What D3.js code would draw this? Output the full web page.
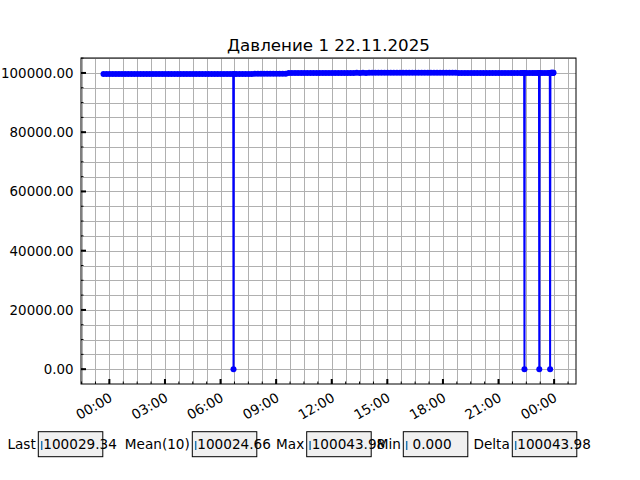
<!DOCTYPE html>
<html>
<head>
<meta charset="utf-8">
<script src="https://cdn.jsdelivr.net/npm/d3@7"></script>
<style>
body { margin: 0; background: #fff; }
svg { font-family: "DejaVu Sans", sans-serif; }
</style>
</head>
<body>
<svg id="chart" width="640" height="480"></svg>
<script>
// minutes after 22.11.2025 00:00 and pressure readings
var minutes = [
    -19, -9, 1, 11, 21, 31, 41, 51, 61, 71,
    81, 91, 101, 111, 121, 131, 141, 151, 161, 171,
    181, 191, 201, 211, 221, 231, 241, 251, 261, 271,
    281, 291, 301, 311, 321, 331, 341, 351, 361, 371,
    381, 391, 401, 402, 403, 411, 421, 431, 441, 451,
    461, 471, 481, 491, 501, 511, 521, 531, 541, 551,
    561, 571,
    581, 591, 601, 611, 621, 631, 641, 651, 661, 671,
    681, 691, 701, 711, 721, 731, 741, 751, 761, 771,
    781, 791, 801, 811, 821, 831, 841, 851, 861, 871,
    881, 891, 901, 911, 921, 931, 941, 951, 961, 971,
    981, 991, 1001, 1011, 1021, 1031, 1041, 1051, 1061, 1071,
    1081, 1091, 1101, 1111, 1121, 1131, 1141, 1151, 1161, 1171,
    1181, 1191, 1201, 1211, 1221, 1231, 1241, 1251, 1261, 1271,
    1281, 1291, 1301, 1311, 1321, 1331,
    1337, 1343, 1344, 1345, 1352, 1361, 1370, 1378, 1386, 1391,
    1392, 1393, 1401, 1410, 1419, 1426, 1427,
    1428, 1429, 1430, 1431, 1432, 1433, 1434, 1436, 1437, 1438
];
var pressure = [
    99671.2, 99668.5, 99665.9, 99663.4, 99660.8, 99662.1, 99659.7, 99657.3, 99655.0, 99656.4,
    99653.8, 99652.1, 99650.6, 99649.2, 99651.5, 99648.7, 99647.3, 99646.0, 99648.9, 99645.2,
    99644.6, 99643.8, 99646.1, 99644.0, 99642.7, 99645.5, 99647.8, 99649.3, 99651.9, 99654.2,
    99656.6, 99658.1, 99660.4, 99662.9, 99664.3, 99666.8, 99668.0, 99669.5, 99671.7, 99673.2,
    99674.6, 99676.0, 99677.3, 0, 99677.9, 99679.4, 99680.2, 99682.5, 99683.1, 99685.7,
    99686.4, 99688.0, 99689.6, 99690.3, 99692.8, 99693.5, 99695.1, 99696.7, 99697.4, 99699.0,
    99700.6, 99701.9,
    100008.3, 100010.7, 100012.2, 100009.8, 100013.5, 100015.1, 100011.6, 100014.9, 100016.3, 100013.7,
    100017.2, 100018.8, 100015.4, 100019.6, 100021.0, 100018.3, 100022.5, 100020.1, 100023.8, 100021.4,
    100024.7, 100022.9, 100025.6, 100023.2, 100026.8, 100024.1, 100027.5, 100025.0, 100028.3, 100026.2,
    100029.1, 100027.4, 100030.6, 100028.0, 100031.2, 100029.5, 100032.7, 100030.3, 100033.4, 100031.8,
    100034.6, 100032.1, 100035.9, 100037.8, 100043.98, 100036.2, 100033.5, 100031.0, 100032.8, 100029.4,
    100030.9, 100027.6, 100028.5, 100025.3, 100026.7, 100023.9, 100024.8, 100021.5, 100022.6, 100019.8,
    100020.4, 100017.1, 100018.9, 100015.7, 100016.5, 100014.2, 100015.8, 100013.0, 100014.6, 100012.3,
    100013.9, 100011.5, 100012.8, 100010.6, 100011.9, 100013.2,
    100012.4, 100013.6, 0, 100014.1, 100015.6, 100016.9, 100015.2, 100017.8, 100018.3, 100016.4,
    0, 100018.0, 100019.3, 100017.5, 100020.7, 100019.1, 0,
    100018.52, 100021.07, 100025.90, 100019.44, 100027.81, 100023.15, 100030.62, 100022.48, 100028.27, 100029.34
];
var yTicks = [0, 20000, 40000, 60000, 80000, 100000];
var statNames = ["Last", "Mean(10)", "Max", "Min", "Delta"];

var plotL = 81, plotR = 576, plotT = 58, plotB = 384;
var base = new Date(2025, 10, 22, 0, 0);

var data = minutes.map(function(m, i) {
    return { t: d3.timeMinute.offset(base, m), v: pressure[i] };
});

var svg = d3.select("#chart");

// scales with matplotlib-like 5% margins
var tExt = d3.extent(data, function(d) { return d.t; });
var tPad = (tExt[1] - tExt[0]) * 0.05;
var xScale = d3.scaleTime()
    .domain([new Date(+tExt[0] - tPad), new Date(+tExt[1] + tPad)])
    .range([plotL, plotR]);

var vExt = d3.extent(pressure);
var vPad = (vExt[1] - vExt[0]) * 0.05;
var yScale = d3.scaleLinear()
    .domain([vExt[0] - vPad, vExt[1] + vPad])
    .range([plotB, plotT]);

// tick positions
var xMajor = xScale.ticks(d3.timeHour.every(3));
var xMinor = [];
var step = 45 * 60 * 1000;
var dom = xScale.domain();
var t = +xMajor[0];
while (t - step >= +dom[0]) t -= step;
for (; t <= +dom[1]; t += step) xMinor.push(new Date(t));
var yMinor = d3.range(0, vExt[1] + vPad, 5000);

// grid
var grid = svg.append("g").attr("stroke", "#b0b0b0").attr("stroke-width", 1);
grid.selectAll(".gx").data(xMinor).enter().append("line")
    .attr("x1", function(d) { return Math.round(xScale(d)) + 0.5; })
    .attr("x2", function(d) { return Math.round(xScale(d)) + 0.5; })
    .attr("y1", plotT).attr("y2", plotB);
grid.selectAll(".gy").data(yMinor).enter().append("line")
    .attr("y1", function(d) { return Math.round(yScale(d)) + 0.5; })
    .attr("y2", function(d) { return Math.round(yScale(d)) + 0.5; })
    .attr("x1", plotL).attr("x2", plotR);

// series
var line = d3.line()
    .x(function(d) { return xScale(d.t); })
    .y(function(d) { return yScale(d.v); });

svg.append("path")
    .datum(data)
    .attr("d", line)
    .attr("fill", "none")
    .attr("stroke", "#0000ff")
    .attr("stroke-width", 2);

svg.append("g").selectAll("circle")
    .data(data)
    .enter()
    .append("circle")
    .attr("cx", function(d) { return xScale(d.t); })
    .attr("cy", function(d) { return yScale(d.v); })
    .attr("r", 3)
    .attr("fill", "#0000ff");

// ticks (pointing inward)
var ticks = svg.append("g").attr("stroke", "#000");
ticks.selectAll(".mx").data(xMinor).enter().append("line")
    .attr("x1", function(d) { return xScale(d); })
    .attr("x2", function(d) { return xScale(d); })
    .attr("y1", plotB).attr("y2", plotB - 2.5)
    .attr("stroke-width", 1);
ticks.selectAll(".Mx").data(xMajor).enter().append("line")
    .attr("x1", function(d) { return xScale(d); })
    .attr("x2", function(d) { return xScale(d); })
    .attr("y1", plotB).attr("y2", plotB - 5)
    .attr("stroke-width", 2);
ticks.selectAll(".my").data(yMinor).enter().append("line")
    .attr("y1", function(d) { return yScale(d); })
    .attr("y2", function(d) { return yScale(d); })
    .attr("x1", plotL).attr("x2", plotL + 2.5)
    .attr("stroke-width", 1);
ticks.selectAll(".My").data(yTicks).enter().append("line")
    .attr("y1", function(d) { return yScale(d); })
    .attr("y2", function(d) { return yScale(d); })
    .attr("x1", plotL).attr("x2", plotL + 5)
    .attr("stroke-width", 2);

// frame
svg.append("rect")
    .attr("x", plotL).attr("y", plotT)
    .attr("width", plotR - plotL).attr("height", plotB - plotT)
    .attr("fill", "none").attr("stroke", "#000").attr("stroke-width", 1);

// tick labels
svg.append("g").selectAll("text")
    .data(yTicks)
    .enter()
    .append("text")
    .attr("x", plotL - 7.5)
    .attr("y", function(d) { return yScale(d); })
    .attr("dy", "0.36em")
    .attr("text-anchor", "end")
    .attr("font-size", "13.4px")
    .text(d3.format(".2f"));

var fmtTime = d3.timeFormat("%H:%M");
svg.append("g").selectAll("text")
    .data(xMajor)
    .enter()
    .append("text")
    .attr("transform", function(d) {
        return "translate(" + (xScale(d) + 4) + "," + (plotB + 16.5) + ") rotate(-30)";
    })
    .attr("text-anchor", "end")
    .attr("font-size", "13.6px")
    .text(fmtTime);

// title
svg.append("text")
    .attr("x", (plotL + plotR) / 2)
    .attr("y", 50.5)
    .attr("text-anchor", "middle")
    .attr("font-size", "16.7px")
    .text("Давление 1 22.11.2025");

// stat boxes
var last10 = pressure.slice(-10);
var vMax = d3.max(pressure), vMin = d3.min(pressure);
var statValues = [pressure[pressure.length - 1], d3.mean(last10), vMax, vMin, vMax - vMin];
function fmtStat(v) {
    return v >= 1 ? v.toFixed(2) : " " + v.toFixed(3);
}
var boxX = [38.3, 192.3, 306.7, 403.3, 512.3];
var boxW = 64.5, boxY = 431.7, boxH = 25;

var boxes = svg.append("g").selectAll("g")
    .data(statNames)
    .enter()
    .append("g");
boxes.append("rect")
    .attr("x", function(d, i) { return boxX[i]; })
    .attr("y", boxY)
    .attr("width", boxW)
    .attr("height", boxH)
    .attr("fill", "#f0f0f0")
    .attr("stroke", "#000")
    .attr("stroke-width", 1);
boxes.append("text")
    .attr("x", function(d, i) { return boxX[i] - 2.5; })
    .attr("y", boxY + boxH / 2)
    .attr("dy", "0.36em")
    .attr("text-anchor", "end")
    .attr("font-size", "13.6px")
    .text(function(d) { return d; });
boxes.append("text")
    .attr("x", function(d, i) { return boxX[i] + 5; })
    .attr("y", boxY + boxH / 2)
    .attr("dy", "0.36em")
    .attr("font-size", "13.6px")
    .style("white-space", "pre")
    .text(function(d, i) { return fmtStat(statValues[i]); });
boxes.append("line")
    .attr("x1", function(d, i) { return boxX[i] + 3.4; })
    .attr("x2", function(d, i) { return boxX[i] + 3.4; })
    .attr("y1", 441).attr("y2", 450)
    .attr("stroke", "#1f77b4")
    .attr("stroke-width", 1.5);
</script>
</body>
</html>
